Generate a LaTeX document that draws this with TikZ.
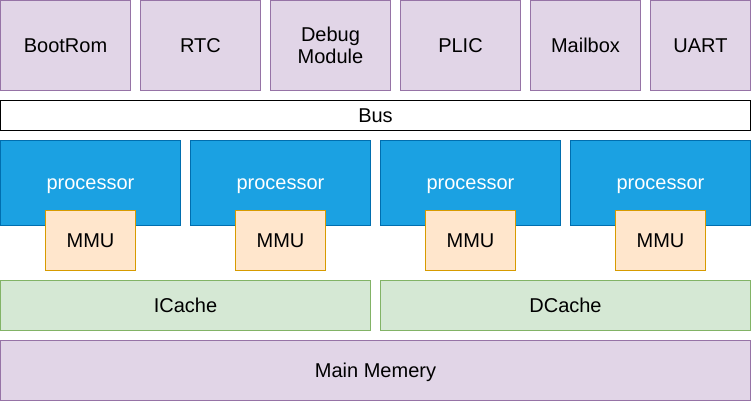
\documentclass[tikz,border=0pt]{standalone}
\usepackage{fontspec}
\setmainfont{Liberation Sans}
\definecolor{pfill}{HTML}{E1D5E7}
\definecolor{pline}{HTML}{9673A6}
\definecolor{bfill}{HTML}{1BA1E2}
\definecolor{bline}{HTML}{006EAF}
\definecolor{ofill}{HTML}{FFE6CC}
\definecolor{oline}{HTML}{D79B00}
\definecolor{gfill}{HTML}{D5E8D4}
\definecolor{gline}{HTML}{82B366}
\tikzset{
  mlbase/.style={rectangle, inner sep=0pt, outer sep=0pt, line width=0.75pt, align=center,
    font=\fontsize{15}{16.5}\selectfont, text=black},
  base/.style={mlbase, text height=13.6pt, text depth=3.2pt},
  pbox/.style={base, draw=pline, fill=pfill},
  pmlbox/.style={mlbase, draw=pline, fill=pfill},
  busbox/.style={base, draw=black, fill=white},
  procbox/.style={base, draw=bline, fill=bfill, text=white},
  mmubox/.style={base, draw=oline, fill=ofill},
  cachebox/.style={base, draw=gline, fill=gfill},
}
\newcommand\bx[7]{\node[#1, minimum width={(#5-#3)*0.75pt}, minimum height={(#6-#4)*0.75pt}] (#2) at ({(#3+#5)/2},{(#4+#6)/2}) {#7};}
\begin{document}
\begin{tikzpicture}[x=0.75pt,y=-0.75pt]
\useasboundingbox (0,0) rectangle (751,401);
\bx{pbox}{bootrom}{0.5}{0.5}{130.5}{90}{BootRom}
\bx{pbox}{rtc}{140.5}{0.5}{260.5}{90}{RTC}
\bx{pmlbox}{debug}{270.5}{0.5}{390.5}{90}{Debug\\Module}
\bx{pbox}{plic}{400.5}{0.5}{520.5}{90}{PLIC}
\bx{pbox}{mailbox}{530.5}{0.5}{640.5}{90}{Mailbox}
\bx{pbox}{uart}{650.5}{0.5}{750.5}{90}{UART}
\bx{busbox}{bus}{0.5}{100.5}{750.5}{130.5}{Bus}
\bx{procbox}{proc1}{0.5}{140}{180.5}{225.5}{processor}
\bx{procbox}{proc2}{190.5}{140}{370.5}{225.5}{processor}
\bx{procbox}{proc3}{380.5}{140}{560.5}{225.5}{processor}
\bx{procbox}{proc4}{570.5}{140}{750.5}{225.5}{processor}
\bx{mmubox}{mmu1}{45.5}{210.5}{135.5}{270}{MMU}
\bx{mmubox}{mmu2}{235.5}{210.5}{325.5}{270}{MMU}
\bx{mmubox}{mmu3}{425.5}{210.5}{515.5}{270}{MMU}
\bx{mmubox}{mmu4}{615.5}{210.5}{705.5}{270}{MMU}
\bx{cachebox}{icache}{0.5}{280.5}{370.5}{330.5}{ICache}
\bx{cachebox}{dcache}{380.5}{280.5}{750.5}{330.5}{DCache}
\bx{pbox}{mainmem}{0.5}{340.5}{750.5}{400.5}{Main Memery}
\end{tikzpicture}
\end{document}
